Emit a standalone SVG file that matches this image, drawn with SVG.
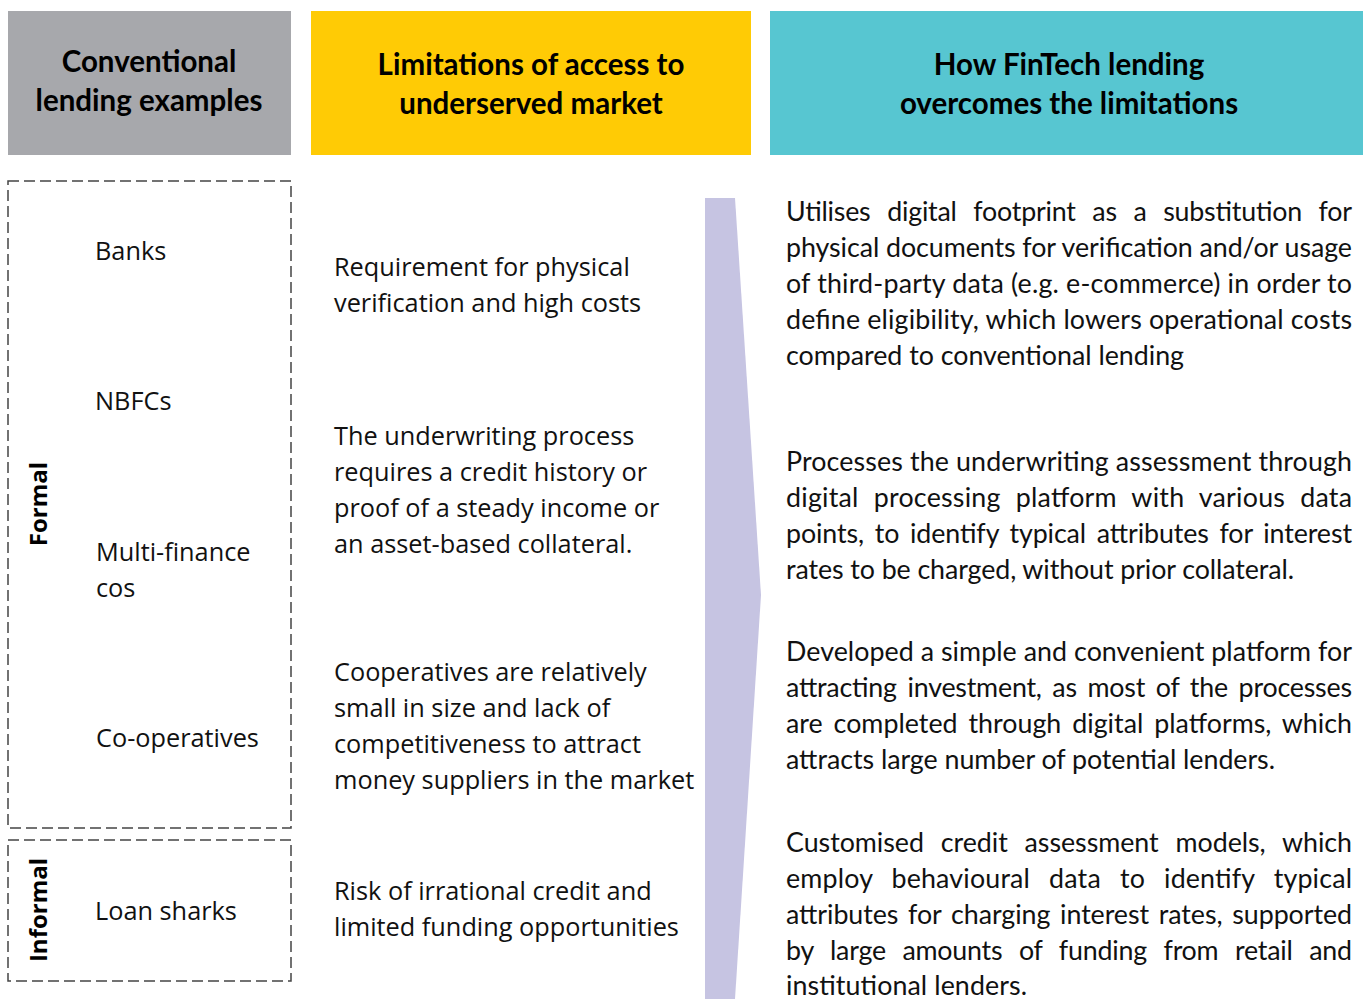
<svg xmlns="http://www.w3.org/2000/svg" width="1368" height="999" viewBox="0 0 1368 999">
  <style>
    .hdr { font-family: Lato, "Liberation Sans", sans-serif; font-weight: 700; font-size: 29.5px; fill: #000; text-anchor: middle; }
    .item { font-family: "Open Sans", "Liberation Sans", sans-serif; font-size: 25.3px; fill: #111; }
    .side { font-family: "Open Sans", "Liberation Sans", sans-serif; font-weight: 700; font-size: 24px; fill: #000; text-anchor: middle; }
    .body { font-family: Lato, "Liberation Sans", sans-serif; font-size: 26.8px; fill: #111; }
    .group { fill: none; stroke: #444; stroke-width: 1.5; stroke-dasharray: 11 5; }
  </style>

  <rect width="1368" height="999" fill="#fff"/>

  <!-- column headers -->
  <g id="hdr-conventional">
    <rect x="8" y="11" width="283" height="144" fill="#A7A8AC"/>
    <text class="hdr" x="149" y="72">Conventional</text>
    <text class="hdr" x="149" y="111">lending examples</text>
  </g>
  <g id="hdr-limitations">
    <rect x="311" y="11" width="440" height="144" fill="#FFCB05"/>
    <text class="hdr" x="531" y="75">Limitations of access to</text>
    <text class="hdr" x="531" y="114">underserved market</text>
  </g>
  <g id="hdr-fintech">
    <rect x="770" y="11" width="593" height="144" fill="#57C6D1"/>
    <text class="hdr" x="1069" y="75">How FinTech lending</text>
    <text class="hdr" x="1069" y="114">overcomes the limitations</text>
  </g>

  <!-- lender groups -->
  <g id="formal">
    <rect class="group" x="8" y="181" width="283" height="647"/>
    <text class="side" transform="translate(47 504) rotate(-90)">Formal</text>
    <text class="item" x="95" y="260">Banks</text>
    <text class="item" x="95" y="410">NBFCs</text>
    <text class="item" x="96" y="561">Multi-finance</text>
    <text class="item" x="96" y="597">cos</text>
    <text class="item" x="96" y="747">Co-operatives</text>
  </g>
  <g id="informal">
    <rect class="group" x="8" y="840" width="283" height="141"/>
    <text class="side" transform="translate(47 910) rotate(-90)">Informal</text>
    <text class="item" x="95" y="920">Loan sharks</text>
  </g>

  <!-- limitations -->
  <g id="lim-banks">
    <text class="item" x="334" y="276">Requirement for physical</text>
    <text class="item" x="334" y="312">verification and high costs</text>
  </g>
  <g id="lim-nbfc">
    <text class="item" x="334" y="445">The underwriting process</text>
    <text class="item" x="334" y="481">requires a credit history or</text>
    <text class="item" x="334" y="517">proof of a steady income or</text>
    <text class="item" x="334" y="553">an asset-based collateral.</text>
  </g>
  <g id="lim-coop">
    <text class="item" x="334" y="681">Cooperatives are relatively</text>
    <text class="item" x="334" y="717">small in size and lack of</text>
    <text class="item" x="334" y="753">competitiveness to attract</text>
    <text class="item" x="334" y="789">money suppliers in the market</text>
  </g>
  <g id="lim-sharks">
    <text class="item" x="334" y="900">Risk of irrational credit and</text>
    <text class="item" x="334" y="936">limited funding opportunities</text>
  </g>

  <!-- connectors -->
  <g id="connectors">
    <polygon points="705,198 735,198 761,595 735,999 705,999" fill="#C6C4E2"/>
  </g>

  <!-- FinTech answers (justified lines stretched to the column width) -->
  <g id="fin-1">
    <text class="body" x="786" y="221" textLength="566" lengthAdjust="spacing" word-spacing="10">Utilises digital footprint as a substitution for</text>
    <text class="body" x="786" y="257" textLength="566" lengthAdjust="spacing">physical documents for verification and/or usage</text>
    <text class="body" x="786" y="293" textLength="566" lengthAdjust="spacing">of third-party data (e.g. e-commerce) in order to</text>
    <text class="body" x="786" y="329" textLength="566" lengthAdjust="spacing">define eligibility, which lowers operational costs</text>
    <text class="body" x="786" y="365" textLength="398" lengthAdjust="spacing">compared to conventional lending</text>
  </g>
  <g id="fin-2">
    <text class="body" x="786" y="471" textLength="566" lengthAdjust="spacing">Processes the underwriting assessment through</text>
    <text class="body" x="786" y="507" textLength="566" lengthAdjust="spacing" word-spacing="8">digital processing platform with various data</text>
    <text class="body" x="786" y="543" textLength="566" lengthAdjust="spacing" word-spacing="4">points, to identify typical attributes for interest</text>
    <text class="body" x="786" y="579" textLength="508" lengthAdjust="spacing">rates to be charged, without prior collateral.</text>
  </g>
  <g id="fin-3">
    <text class="body" x="786" y="661" textLength="566" lengthAdjust="spacing">Developed a simple and convenient platform for</text>
    <text class="body" x="786" y="697" textLength="566" lengthAdjust="spacing" word-spacing="4">attracting investment, as most of the processes</text>
    <text class="body" x="786" y="733" textLength="566" lengthAdjust="spacing" word-spacing="4">are completed through digital platforms, which</text>
    <text class="body" x="786" y="769" textLength="489" lengthAdjust="spacing">attracts large number of potential lenders.</text>
  </g>
  <g id="fin-4">
    <text class="body" x="786" y="852" textLength="566" lengthAdjust="spacing" word-spacing="10">Customised credit assessment models, which</text>
    <text class="body" x="786" y="888" textLength="566" lengthAdjust="spacing" word-spacing="12">employ behavioural data to identify typical</text>
    <text class="body" x="786" y="924" textLength="566" lengthAdjust="spacing" word-spacing="3">attributes for charging interest rates, supported</text>
    <text class="body" x="786" y="960" textLength="566" lengthAdjust="spacing" word-spacing="10">by large amounts of funding from retail and</text>
    <text class="body" x="786" y="995" textLength="241" lengthAdjust="spacing">institutional lenders.</text>
  </g>
</svg>
